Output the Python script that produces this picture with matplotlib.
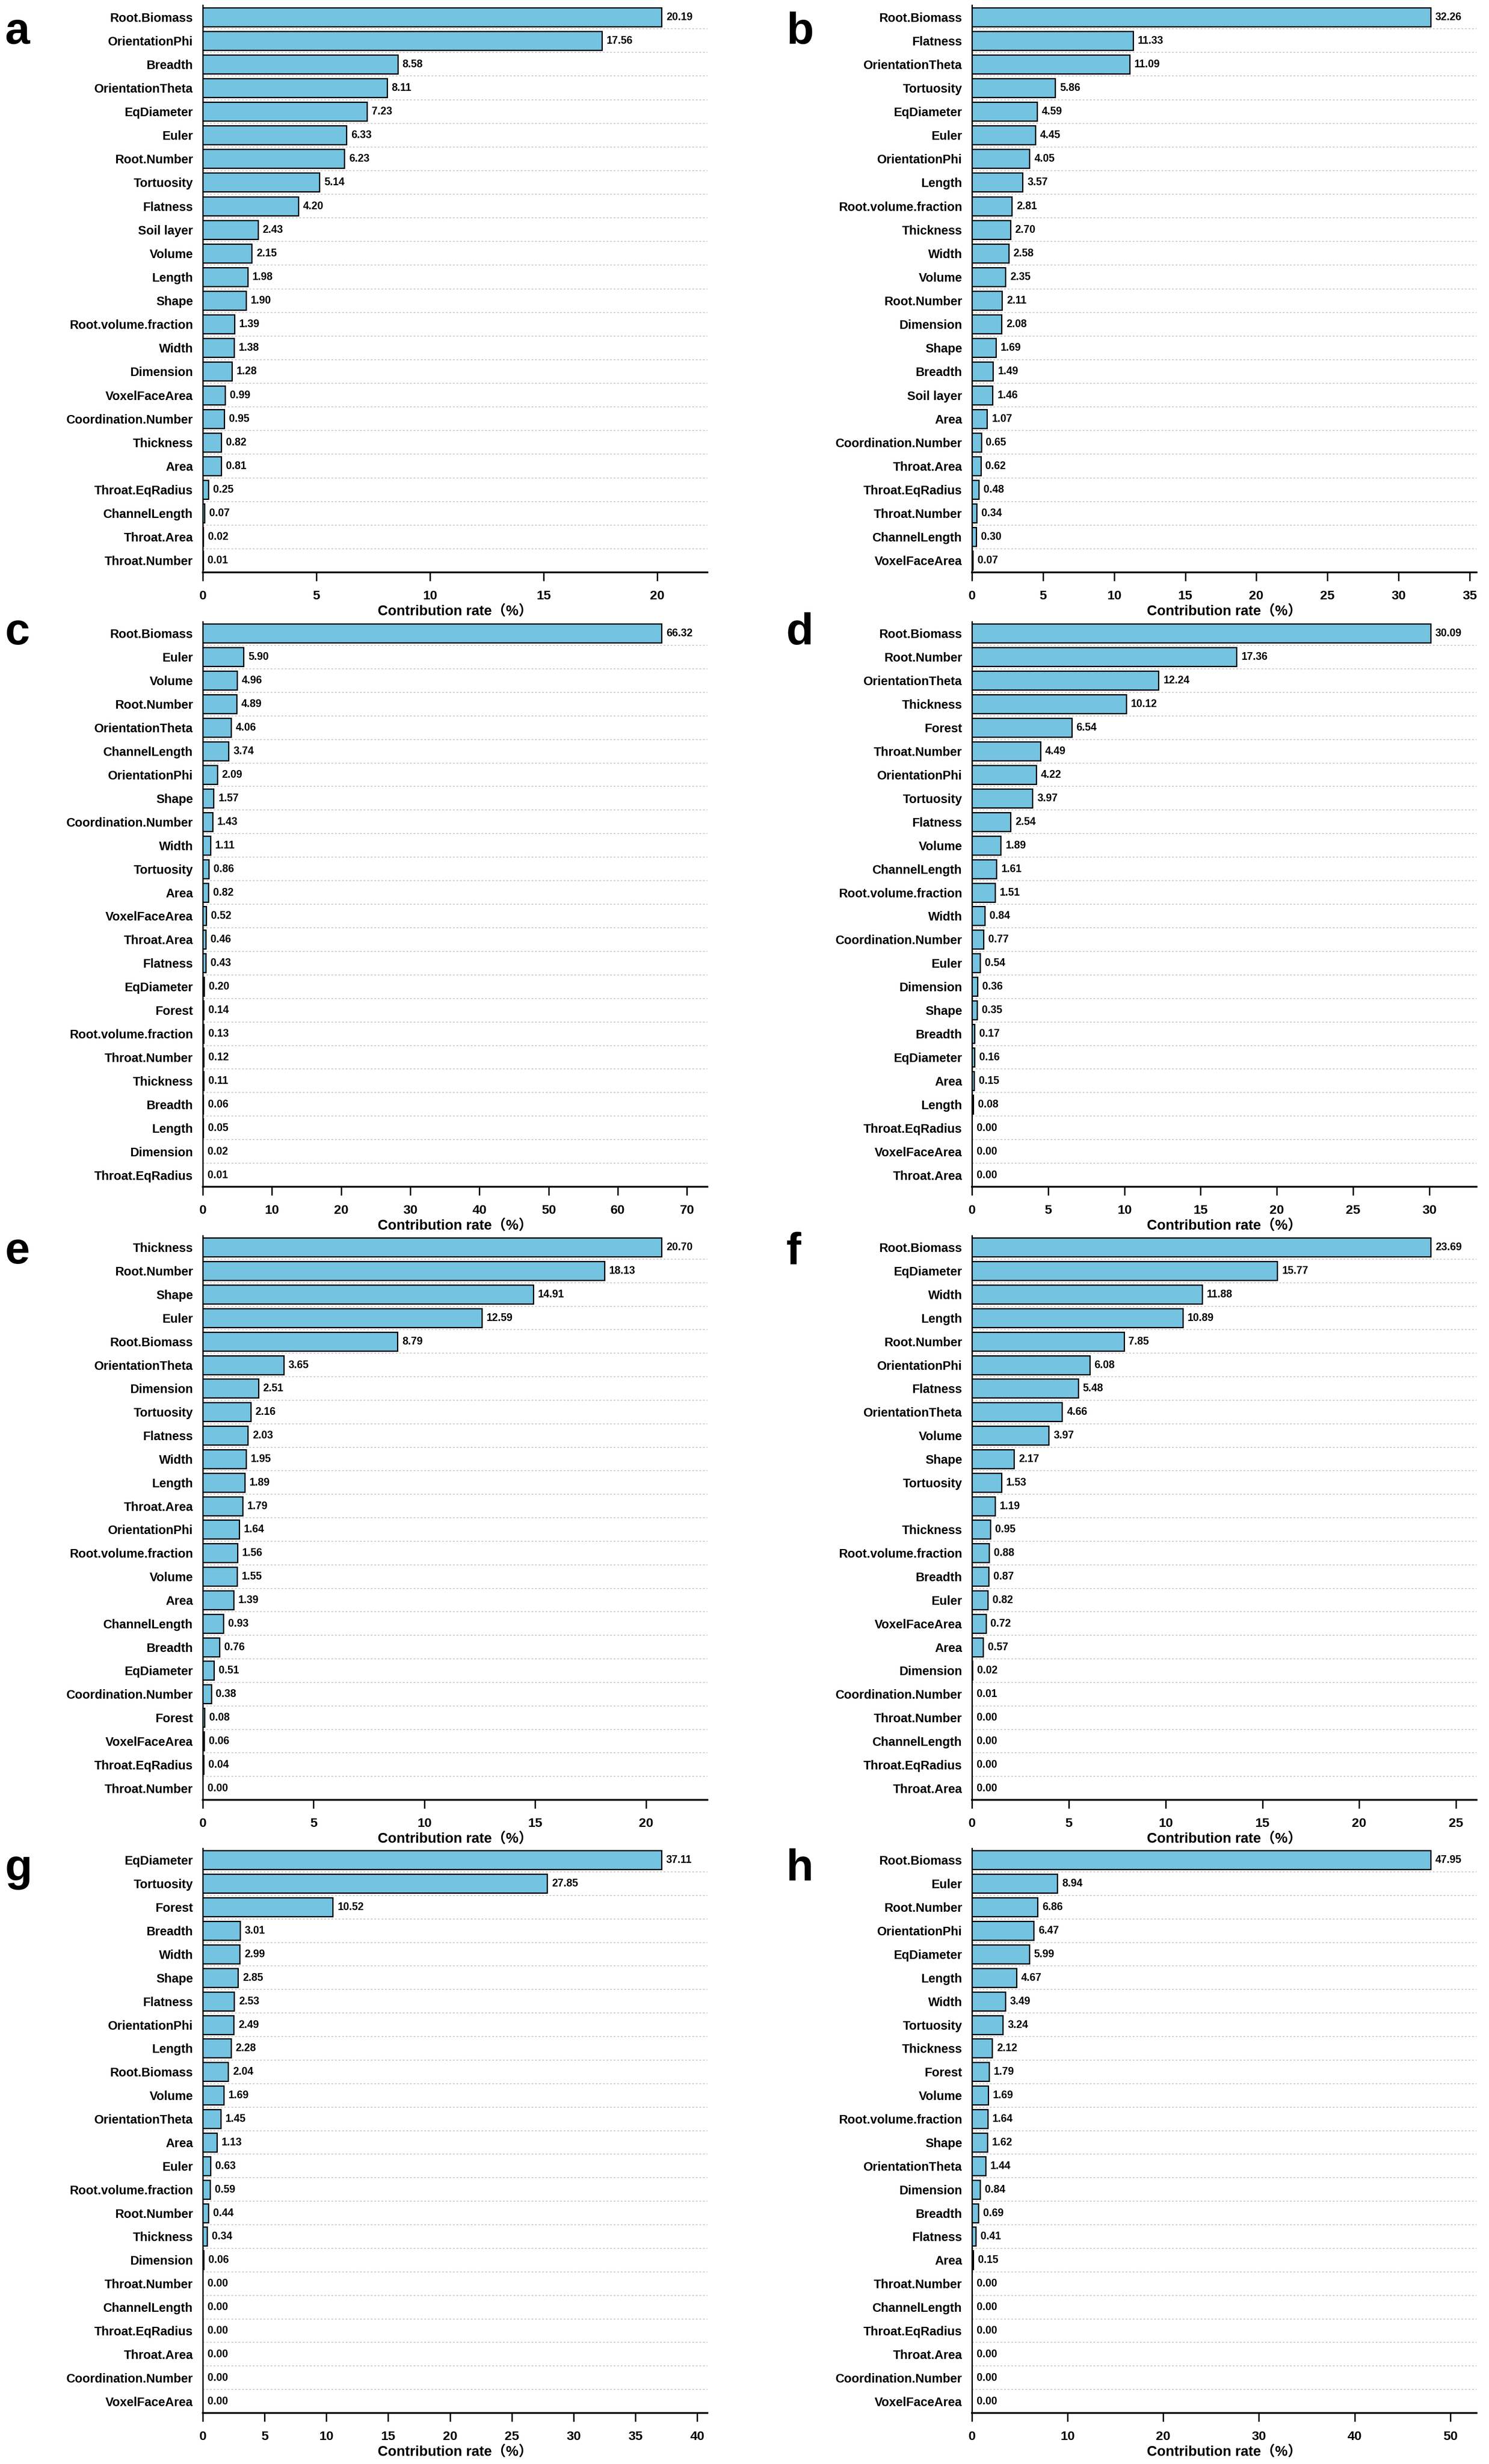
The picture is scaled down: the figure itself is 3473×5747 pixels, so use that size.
import numpy as np
import matplotlib
matplotlib.use('Agg')
import matplotlib.pyplot as plt
from matplotlib.ticker import MultipleLocator

plt.rcParams['font.family'] = ['Liberation Sans', 'Noto Sans CJK SC', 'DejaVu Sans']
plt.rcParams['font.weight'] = 'bold'
plt.rcParams['axes.labelweight'] = 'bold'

# ---------------- data ----------------
labels_a = ['Root.Biomass', 'OrientationPhi', 'Breadth', 'OrientationTheta', 'EqDiameter', 'Euler',
            'Root.Number', 'Tortuosity', 'Flatness', 'Soil layer', 'Volume', 'Length', 'Shape',
            'Root.volume.fraction', 'Width', 'Dimension', 'VoxelFaceArea', 'Coordination.Number',
            'Thickness', 'Area', 'Throat.EqRadius', 'ChannelLength', 'Throat.Area', 'Throat.Number']
values_a = [20.19, 17.56, 8.58, 8.11, 7.23, 6.33, 6.23, 5.14, 4.20, 2.43, 2.15, 1.98, 1.90,
            1.39, 1.38, 1.28, 0.99, 0.95, 0.82, 0.81, 0.25, 0.07, 0.02, 0.01]

labels_b = ['Root.Biomass', 'Flatness', 'OrientationTheta', 'Tortuosity', 'EqDiameter', 'Euler',
            'OrientationPhi', 'Length', 'Root.volume.fraction', 'Thickness', 'Width', 'Volume',
            'Root.Number', 'Dimension', 'Shape', 'Breadth', 'Soil layer', 'Area',
            'Coordination.Number', 'Throat.Area', 'Throat.EqRadius', 'Throat.Number',
            'ChannelLength', 'VoxelFaceArea']
values_b = [32.26, 11.33, 11.09, 5.86, 4.59, 4.45, 4.05, 3.57, 2.81, 2.70, 2.58, 2.35,
            2.11, 2.08, 1.69, 1.49, 1.46, 1.07, 0.65, 0.62, 0.48, 0.34, 0.30, 0.07]

labels_c = ['Root.Biomass', 'Euler', 'Volume', 'Root.Number', 'OrientationTheta', 'ChannelLength',
            'OrientationPhi', 'Shape', 'Coordination.Number', 'Width', 'Tortuosity', 'Area',
            'VoxelFaceArea', 'Throat.Area', 'Flatness', 'EqDiameter', 'Forest',
            'Root.volume.fraction', 'Throat.Number', 'Thickness', 'Breadth', 'Length',
            'Dimension', 'Throat.EqRadius']
values_c = [66.32, 5.90, 4.96, 4.89, 4.06, 3.74, 2.09, 1.57, 1.43, 1.11, 0.86, 0.82,
            0.52, 0.46, 0.43, 0.20, 0.14, 0.13, 0.12, 0.11, 0.06, 0.05, 0.02, 0.01]

labels_d = ['Root.Biomass', 'Root.Number', 'OrientationTheta', 'Thickness', 'Forest',
            'Throat.Number', 'OrientationPhi', 'Tortuosity', 'Flatness', 'Volume',
            'ChannelLength', 'Root.volume.fraction', 'Width', 'Coordination.Number', 'Euler',
            'Dimension', 'Shape', 'Breadth', 'EqDiameter', 'Area', 'Length',
            'Throat.EqRadius', 'VoxelFaceArea', 'Throat.Area']
values_d = [30.09, 17.36, 12.24, 10.12, 6.54, 4.49, 4.22, 3.97, 2.54, 1.89, 1.61, 1.51,
            0.84, 0.77, 0.54, 0.36, 0.35, 0.17, 0.16, 0.15, 0.08, 0.00, 0.00, 0.00]

labels_e = ['Thickness', 'Root.Number', 'Shape', 'Euler', 'Root.Biomass', 'OrientationTheta',
            'Dimension', 'Tortuosity', 'Flatness', 'Width', 'Length', 'Throat.Area',
            'OrientationPhi', 'Root.volume.fraction', 'Volume', 'Area', 'ChannelLength',
            'Breadth', 'EqDiameter', 'Coordination.Number', 'Forest', 'VoxelFaceArea',
            'Throat.EqRadius', 'Throat.Number']
values_e = [20.70, 18.13, 14.91, 12.59, 8.79, 3.65, 2.51, 2.16, 2.03, 1.95, 1.89, 1.79,
            1.64, 1.56, 1.55, 1.39, 0.93, 0.76, 0.51, 0.38, 0.08, 0.06, 0.04, 0.00]

labels_f = ['Root.Biomass', 'EqDiameter', 'Width', 'Length', 'Root.Number', 'OrientationPhi',
            'Flatness', 'OrientationTheta', 'Volume', 'Shape', 'Tortuosity', '',
            'Thickness', 'Root.volume.fraction', 'Breadth', 'Euler', 'VoxelFaceArea', 'Area',
            'Dimension', 'Coordination.Number', 'Throat.Number', 'ChannelLength',
            'Throat.EqRadius', 'Throat.Area']
values_f = [23.69, 15.77, 11.88, 10.89, 7.85, 6.08, 5.48, 4.66, 3.97, 2.17, 1.53, 1.19,
            0.95, 0.88, 0.87, 0.82, 0.72, 0.57, 0.02, 0.01, 0.00, 0.00, 0.00, 0.00]

labels_g = ['EqDiameter', 'Tortuosity', 'Forest', 'Breadth', 'Width', 'Shape', 'Flatness',
            'OrientationPhi', 'Length', 'Root.Biomass', 'Volume', 'OrientationTheta', 'Area',
            'Euler', 'Root.volume.fraction', 'Root.Number', 'Thickness', 'Dimension',
            'Throat.Number', 'ChannelLength', 'Throat.EqRadius', 'Throat.Area',
            'Coordination.Number', 'VoxelFaceArea']
values_g = [37.11, 27.85, 10.52, 3.01, 2.99, 2.85, 2.53, 2.49, 2.28, 2.04, 1.69, 1.45, 1.13,
            0.63, 0.59, 0.44, 0.34, 0.06, 0.00, 0.00, 0.00, 0.00, 0.00, 0.00]

labels_h = ['Root.Biomass', 'Euler', 'Root.Number', 'OrientationPhi', 'EqDiameter', 'Length',
            'Width', 'Tortuosity', 'Thickness', 'Forest', 'Volume', 'Root.volume.fraction',
            'Shape', 'OrientationTheta', 'Dimension', 'Breadth', 'Flatness', 'Area',
            'Throat.Number', 'ChannelLength', 'Throat.EqRadius', 'Throat.Area',
            'Coordination.Number', 'VoxelFaceArea']
values_h = [47.95, 8.94, 6.86, 6.47, 5.99, 4.67, 3.49, 3.24, 2.12, 1.79, 1.69, 1.64,
            1.62, 1.44, 0.84, 0.69, 0.41, 0.15, 0.00, 0.00, 0.00, 0.00, 0.00, 0.00]

panel_letters = ['a', 'b', 'c', 'd', 'e', 'f', 'g', 'h']
panel_labels = [labels_a, labels_b, labels_c, labels_d, labels_e, labels_f, labels_g, labels_h]
panel_values = [values_a, values_b, values_c, values_d, values_e, values_f, values_g, values_h]
tick_steps = [5, 5, 10, 5, 5, 5, 5, 10]
xlabel_text = 'Contribution rate（%）'

# ---------------- layout ----------------
W, H, DPI = 3473, 5747, 300
fig = plt.figure(figsize=(W / DPI, H / DPI), dpi=DPI)
fig.patch.set_facecolor('white')

col_left = [473 / W, 2267 / W]
ax_w = 1177 / W
row_top_px = [12, 1450, 2882, 4311]
row_bot_px = [1335, 2768, 4198, 5628]
letter_x = [0.0035, 0.528]
letter_base_px = [102, 1503, 2947, 4386]

bar_color = '#74C3E1'

for k in range(8):
    r, c = divmod(k, 2)
    labels = panel_labels[k]
    vals = panel_values[k]
    n = len(vals)
    bottom = 1 - row_bot_px[r] / H
    height = (row_bot_px[r] - row_top_px[r]) / H
    ax = fig.add_axes([col_left[c], bottom, ax_w, height])
    y = np.arange(n)
    ax.barh(y, vals, height=0.8, color=bar_color, edgecolor='black', linewidth=0.7, zorder=3)
    for i in range(n - 1):
        ax.axhline(i + 0.5, color='#c8c8c8', lw=0.5, ls=(0, (2, 2)), zorder=1)
    ax.set_ylim(n - 0.5, -0.5)
    ax.set_xlim(0, max(vals) * 1.1)
    ax.set_yticks(y)
    ax.set_yticklabels(labels, fontsize=6.9, fontweight='bold')
    ax.tick_params(axis='y', length=0, pad=5.5)
    ax.xaxis.set_major_locator(MultipleLocator(tick_steps[k]))
    ax.tick_params(axis='x', length=4.8, width=0.8, pad=5, labelsize=7.3)
    for lab in ax.get_xticklabels():
        lab.set_fontweight('bold')
    for s in ['top', 'right']:
        ax.spines[s].set_visible(False)
    ax.spines['left'].set_linewidth(0.75)
    ax.spines['bottom'].set_linewidth(1.0)
    for i, v in enumerate(vals):
        ax.annotate(f'{v:.2f}', xy=(v, i), xytext=(2.6, 0), textcoords='offset points',
                    va='center', ha='left', fontsize=5.9, fontweight='bold', zorder=4)
    ax.set_xlabel(xlabel_text, fontsize=7.9, fontweight='bold', labelpad=1.5)
    fig.text(letter_x[c], 1 - letter_base_px[r] / H, panel_letters[k], fontsize=25,
             fontweight='bold', va='baseline', ha='left')

fig.savefig('out.png', dpi=DPI, facecolor='white')
